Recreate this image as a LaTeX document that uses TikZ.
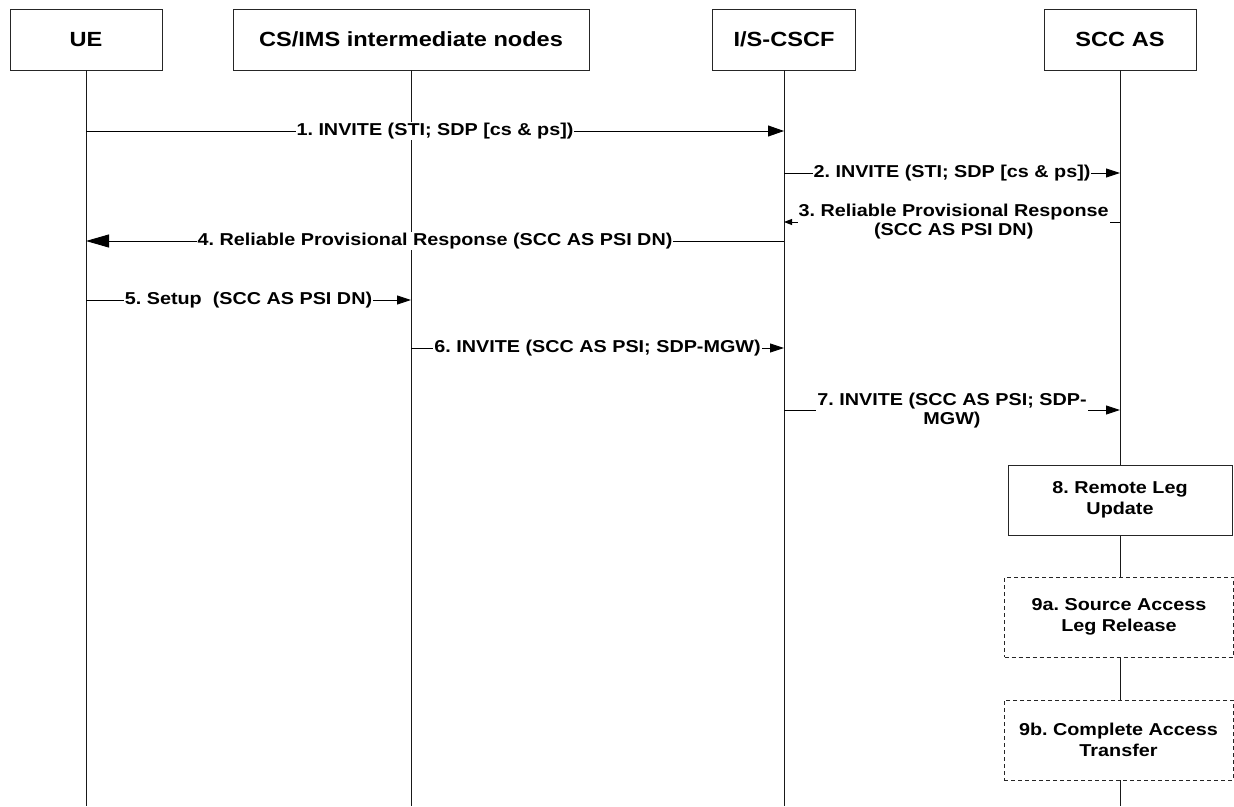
\documentclass[tikz,border=0pt]{standalone}
\usepackage{fontspec}
\setmainfont{Liberation Sans}[FakeStretch=1.15]
\usetikzlibrary{arrows.meta}
\frenchspacing
\begin{document}
\begin{tikzpicture}[x=1pt,y=-1pt,
  every node/.style={font=\bfseries},
  head/.style={draw=black!85,line width=0.9pt,fill=white,minimum height=61pt,inner sep=0pt,font=\fontsize{20.5}{24}\selectfont\bfseries},
  life/.style={line width=0.8pt,black!90},
  msg/.style={line width=0.9pt,-{Triangle[length=14pt,width=9pt]}},
  lbl/.style={fill=white,inner xsep=1pt,inner ysep=1pt,align=center,font=\fontsize{17.2}{19}\selectfont\bfseries\frenchspacing},
  actbox/.style={draw=black!85,line width=0.9pt,fill=white,align=center,inner sep=0pt,font=\fontsize{17.2}{21.5}\selectfont\bfseries\frenchspacing},
  optbox/.style={actbox,dashed,dash pattern=on 4pt off 3pt}]
\useasboundingbox (0,0) rectangle (1234,806);
\fill[white] (0,0) rectangle (1234,806);
% headers
\node[head,minimum width=152pt] (ue) at (86,39.5) {UE};
\node[head,minimum width=356pt] (cs) at (411,39.5) {CS/IMS intermediate nodes};
\node[head,minimum width=143pt] (cscf) at (784,39.5) {I/S-CSCF};
\node[head,minimum width=152pt] (scc) at (1120,39.5) {SCC AS};
\coordinate (bot) at (0,806);
% lifelines
\draw[life] (ue.south) -- (ue.south |- bot);
\draw[life] (cs.south) -- (cs.south |- bot);
\draw[life] (cscf.south) -- (cscf.south |- bot);
\draw[life] (scc.south) -- (scc.south |- bot);
% message rows
\coordinate (y1) at (0,131);
\coordinate (y2) at (0,173);
\coordinate (y3) at (0,222);
\coordinate (y4) at (0,241);
\coordinate (y5) at (0,300);
\coordinate (y6) at (0,348);
\coordinate (y7) at (0,410);
\draw[msg,-{Triangle[length=16pt,width=11pt]}] (ue |- y1) -- node[lbl] {1. INVITE (STI; SDP [cs \& ps])} (cscf |- y1);
\draw[msg] (cscf |- y2) -- node[lbl] {2. INVITE (STI; SDP [cs \& ps])} (scc |- y2);
\draw[msg,-{Triangle[length=8pt,width=6pt]}] (scc |- y3) -- node[lbl,pos=0.495] {3. Reliable Provisional Response\\(SCC AS PSI DN)} (cscf |- y3);
\draw[msg,-{Triangle[length=23pt,width=13pt]}] (cscf |- y4) -- node[lbl] {4. Reliable Provisional Response (SCC AS PSI DN)} (ue |- y4);
\draw[msg] (ue |- y5) -- node[lbl] {5. Setup\ \ (SCC AS PSI DN)} (cs |- y5);
\draw[msg] (cs |- y6) -- node[lbl] {6. INVITE (SCC AS PSI; SDP-MGW)} (cscf |- y6);
\draw[msg] (cscf |- y7) -- node[lbl,yshift=-1pt] {7. INVITE (SCC AS PSI; SDP-\\MGW)} (scc |- y7);
% boxes on SCC AS lifeline
\node[actbox,minimum width=224pt,minimum height=70pt] (b8) at (1120,500) {8. Remote Leg\\Update};
\node[optbox,minimum width=229pt,minimum height=80pt] (b9a) at (1119,617) {9a. Source Access\\Leg Release};
\node[optbox,minimum width=229pt,minimum height=80pt] (b9b) at (1118.5,740) {9b. Complete Access\\Transfer};
\end{tikzpicture}
\end{document}
